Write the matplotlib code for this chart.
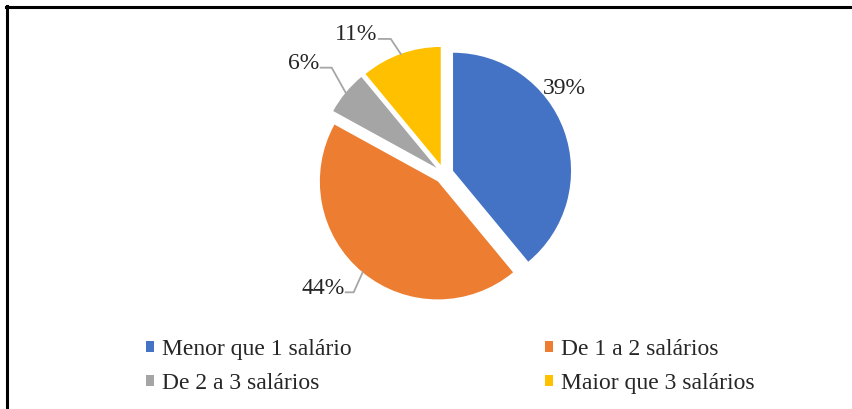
import numpy as np
import matplotlib
matplotlib.use("Agg")
import matplotlib.pyplot as plt
from matplotlib.patches import Patch
from matplotlib.lines import Line2D

plt.rcParams['font.family'] = ['Liberation Serif', 'DejaVu Serif']

# ---- data ----
categories = ["Menor que 1 salário", "De 1 a 2 salários", "De 2 a 3 salários", "Maior que 3 salários"]
values = [39, 44, 6, 11]
labels_pct = ["39%", "44%", "6%", "11%"]
colors = ["#4472C4", "#ED7D31", "#A5A5A5", "#FFC000"]

# ---- layout (pixel units, y up) ----
W, H = 852, 409
center = (444, H - 174)
radius = 118
explode_px = 9.6
# per-slice leader line: (elbow dx, elbow dy, horizontal length) or None; text offset
leader = [None, (-9, -20, -8), (-14, 25, -11), (-10, 15, -12)]
text_plain_off = [(0, 42), None, None, None]

fig = plt.figure(figsize=(W / 100, H / 100), dpi=100)
ax = fig.add_axes([0, 0, 1, 1])

wedges, _ = ax.pie(values, colors=colors, startangle=90, counterclock=False,
                   radius=radius, center=center, explode=[explode_px] * len(values),
                   wedgeprops=dict(linewidth=0))
ax.set_xlim(0, W)
ax.set_ylim(0, H)
ax.set_aspect('auto')
ax.axis('off')

line_color = "#A6A6A6"
for w, lab, ld, toff in zip(wedges, labels_pct, leader, text_plain_off):
    mid = np.deg2rad((w.theta1 + w.theta2) / 2)
    cx, cy = w.center
    px, py = cx + w.r * np.cos(mid), cy + w.r * np.sin(mid)
    if ld is None:
        ax.text(px + toff[0], py + toff[1], lab, ha='center', va='center', fontsize=17, color='#262626')
    else:
        ex, ey = px + ld[0], py + ld[1]
        hx = ex + ld[2]
        ax.plot([px, ex, hx], [py, ey, ey], color=line_color, lw=1.3, solid_joinstyle='miter')
        ax.text(hx - 1, ey + 4, lab, ha='right', va='center', fontsize=17, color='#262626')

handles = [Patch(facecolor=c, edgecolor='none') for c in colors]
order = [0, 2, 1, 3]
leg = fig.legend([handles[i] for i in order], [categories[i] for i in order],
                 ncol=2, loc='upper left', bbox_to_anchor=(146 / W, (H - 339) / H),
                 frameon=False, fontsize=17, handlelength=0.32, handleheight=0.32,
                 handletextpad=0.35, columnspacing=8.2, labelspacing=0.55,
                 borderpad=0, borderaxespad=0)
for t in leg.get_texts():
    t.set_color('#262626')

# border
fig.add_artist(Line2D([7 / W, 7 / W], [0, (H - 5.5) / H], color='black', lw=2.2, transform=fig.transFigure))
fig.add_artist(Line2D([5.5 / W, 1], [(H - 6.5) / H, (H - 6.5) / H], color='black', lw=2.2, transform=fig.transFigure))

fig.savefig("out.png", dpi=100)
